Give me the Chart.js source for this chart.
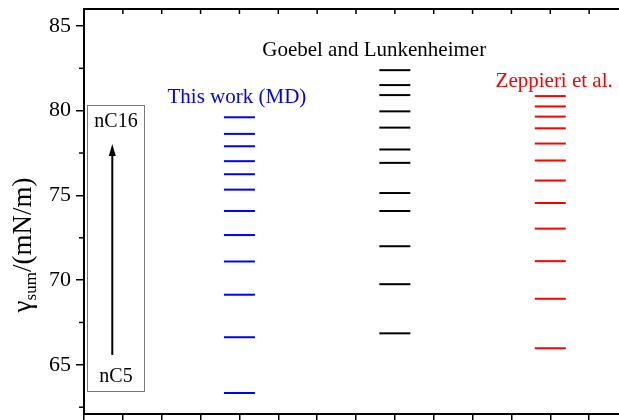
<!DOCTYPE html>
<html><head><meta charset="utf-8">
<script src="https://cdn.jsdelivr.net/npm/chart.js@4/dist/chart.umd.min.js"></script>
<style>
html,body{margin:0;padding:0;background:#fff;overflow:hidden;}
#wrap{width:650px;height:420px;position:relative;}
</style></head><body>
<div id="wrap"><canvas id="c" width="650" height="420"></canvas></div>
<script>
// ---- data ----
const categories = ['This work (MD)', 'Goebel and Lunkenheimer', 'Zeppieri et al.'];
const categoryX = [1, 2, 3];
const thisWorkMD = [63.34, 66.63, 69.14, 71.10, 72.66, 74.08, 75.34, 76.25, 77.02, 77.90, 78.63, 79.61];
const goebelLunkenheimer = [66.86, 69.76, 72.00, 74.08, 75.14, 76.92, 77.71, 79.00, 79.96, 80.92, 81.51, 82.39];
const zeppieri = [65.98, 68.90, 71.12, 73.04, 74.55, 75.88, 77.06, 78.06, 78.96, 79.65, 80.25, 80.86];
const seriesColors = ['#0000ff', '#000000', '#ff0000'];
const yTickStep = 2.5;
const yMajorStep = 5;
const insetTop = 'nC16';
const insetBottom = 'nC5';

// ---- styles / annotation anchors (data units) ----
const FONT = '"Liberation Serif", "Times New Roman", serif';
const labelAnchors = [
  {x: 0.984, y: 80.43},
  {x: 1.867, y: 83.24},
  {x: 3.025, y: 81.41}
];

const allSeries = [thisWorkMD, goebelLunkenheimer, zeppieri];
const datasets = allSeries.map((vals, i) => ({
  label: categories[i],
  data: vals.map(v => ({x: categoryX[i], y: v})),
  pointStyle: 'line',
  radius: 15.5,
  hoverRadius: 15.5,
  borderWidth: 2,
  borderColor: seriesColors[i],
  backgroundColor: seriesColors[i],
  showLine: false
}));

const decor = {
  id: 'decor',
  afterDraw(chart) {
    const {ctx, chartArea: ca, scales: {x, y}} = chart;
    ctx.save();
    ctx.strokeStyle = '#000';
    // top frame line + inward ticks
    ctx.lineWidth = 2;
    ctx.beginPath();
    ctx.moveTo(ca.left - 1, ca.top);
    ctx.lineTo(ca.right, ca.top);
    ctx.stroke();
    ctx.lineWidth = 1.5;
    x.ticks.forEach(t => {
      const px = x.getPixelForValue(t.value);
      ctx.beginPath();
      ctx.moveTo(px, ca.top);
      ctx.lineTo(px, ca.top + 5);
      ctx.stroke();
    });
    // minor y ticks
    y.ticks.forEach(t => {
      if (Math.abs(t.value % yMajorStep) > 1e-6) {
        const py = y.getPixelForValue(t.value);
        ctx.beginPath();
        ctx.moveTo(ca.left - 5, py);
        ctx.lineTo(ca.left, py);
        ctx.stroke();
      }
    });
    // series labels
    ctx.font = '21px ' + FONT;
    ctx.textAlign = 'center';
    ctx.textBaseline = 'alphabetic';
    labelAnchors.forEach((a, i) => {
      ctx.fillStyle = seriesColors[i];
      ctx.fillText(categories[i], x.getPixelForValue(a.x), y.getPixelForValue(a.y));
    });
    // inset box
    const bx0 = x.getPixelForValue(0.019), bx1 = x.getPixelForValue(0.385);
    const by0 = y.getPixelForValue(80.35), by1 = y.getPixelForValue(63.47);
    ctx.strokeStyle = '#777';
    ctx.lineWidth = 1;
    ctx.strokeRect(Math.round(bx0) + 0.5, Math.round(by0) + 0.5, Math.round(bx1 - bx0), Math.round(by1 - by0));
    ctx.fillStyle = '#000';
    ctx.font = '20px ' + FONT;
    ctx.textBaseline = 'middle';
    const tx = x.getPixelForValue(0.206);
    ctx.fillText(insetTop, tx, y.getPixelForValue(79.37));
    ctx.fillText(insetBottom, tx, y.getPixelForValue(64.29));
    // arrow
    const ax = x.getPixelForValue(0.182);
    const ay0 = y.getPixelForValue(65.59), ay1 = y.getPixelForValue(78.04);
    ctx.strokeStyle = '#000';
    ctx.lineWidth = 2;
    ctx.beginPath();
    ctx.moveTo(ax, ay0);
    ctx.lineTo(ax, ay1 + 10);
    ctx.stroke();
    ctx.beginPath();
    ctx.moveTo(ax, ay1);
    ctx.lineTo(ax - 3.5, ay1 + 12);
    ctx.lineTo(ax + 3.5, ay1 + 12);
    ctx.closePath();
    ctx.fill();
    // y title with subscript
    const fMain = 27, fSub = 17;
    const p1 = '\u03b3', p2 = 'sum', p3 = '/(mN/m)';
    ctx.textAlign = 'left';
    ctx.textBaseline = 'alphabetic';
    ctx.font = fMain + 'px ' + FONT; const w1 = ctx.measureText(p1).width, w3 = ctx.measureText(p3).width;
    ctx.font = fSub + 'px ' + FONT; const w2 = ctx.measureText(p2).width;
    const total = w1 + w2 + w3;
    ctx.translate(31, 245);
    ctx.rotate(-Math.PI / 2);
    let cx = -total / 2;
    ctx.font = fMain + 'px ' + FONT; ctx.fillText(p1, cx, 0); cx += w1;
    ctx.font = fSub + 'px ' + FONT; ctx.fillText(p2, cx, 5); cx += w2;
    ctx.font = fMain + 'px ' + FONT; ctx.fillText(p3, cx, 0);
    ctx.restore();
  }
};

new Chart(document.getElementById('c'), {
  type: 'scatter',
  data: {datasets},
  options: {
    responsive: false,
    animation: false,
    devicePixelRatio: 1,
    events: [],
    layout: {autoPadding: false, padding: {top: 9, right: 22, left: 0, bottom: 0}},
    plugins: {legend: {display: false}, tooltip: {enabled: false}},
    scales: {
      x: {
        type: 'linear', min: 0, max: 3.5,
        ticks: {display: false, stepSize: 0.25},
        grid: {drawOnChartArea: false, drawTicks: true, tickLength: 6, color: '#000', lineWidth: 1.5},
        border: {display: true, color: '#000', width: 2},
        afterFit: s => { s.height = 6; s.paddingLeft = 0; s.paddingRight = 0; }
      },
      y: {
        type: 'linear', min: 62.1, max: 86,
        ticks: {
          stepSize: yTickStep, includeBounds: false, padding: 5, color: '#000',
          font: {family: 'Liberation Serif', size: 22},
          callback: v => (Math.abs(v % yMajorStep) < 1e-6 ? String(v) : '')
        },
        grid: {
          drawOnChartArea: false, tickLength: 8, lineWidth: 1.5,
          color: c => (c.tick && Math.abs(c.tick.value % yMajorStep) < 1e-6) ? '#000' : 'rgba(0,0,0,0)'
        },
        border: {display: true, color: '#000', width: 2},
        afterFit: s => { s.width = 84; s.paddingTop = 0; s.paddingBottom = 0; }
      }
    }
  },
  plugins: [decor]
});
</script>
</body></html>
